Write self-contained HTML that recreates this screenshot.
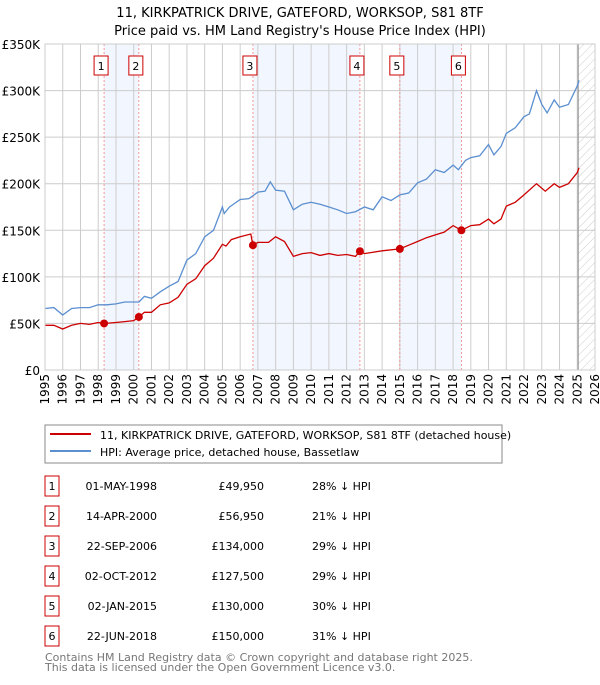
<!DOCTYPE html>
<html><head><meta charset="utf-8">
<style>
body{margin:0;background:#fff;font-family:"Liberation Sans","DejaVu Sans",sans-serif;}
svg text{font-family:"DejaVu Sans","Liberation Sans",sans-serif;}
</style></head>
<body>
<svg id="c" width="600" height="680" xmlns="http://www.w3.org/2000/svg">
<defs><pattern id="hatch" width="6" height="6" patternUnits="userSpaceOnUse" patternTransform="rotate(45)"><line x1="0" y1="0" x2="0" y2="6" stroke="#ccc" stroke-width="1"/></pattern></defs>
<text x="300" y="17" text-anchor="middle" font-size="13">11, KIRKPATRICK DRIVE, GATEFORD, WORKSOP, S81 8TF</text>
<text x="300" y="35" text-anchor="middle" font-size="13">Price paid vs. HM Land Registry's House Price Index (HPI)</text>
<g id="plot"></g>
<rect x="45" y="425" width="457" height="38" fill="#fff" stroke="#888"/>
<line x1="50" y1="434" x2="91" y2="434" stroke="#cc0000" stroke-width="2"/>
<text x="100" y="439" font-size="11">11, KIRKPATRICK DRIVE, GATEFORD, WORKSOP, S81 8TF (detached house)</text>
<line x1="50" y1="451" x2="91" y2="451" stroke="#5b8fd0" stroke-width="2"/>
<text x="100" y="456" font-size="11">HPI: Average price, detached house, Bassetlaw</text>
<g id="table"></g>
<text x="45" y="661" font-size="11" fill="#777">Contains HM Land Registry data © Crown copyright and database right 2025.</text>
<text x="45" y="671" font-size="11" fill="#777">This data is licensed under the Open Government Licence v3.0.</text>
</svg>
<script>
const yTicks=[0,50,100,150,200,250,300,350];
const yTickLabels=["£0","£50K","£100K","£150K","£200K","£250K","£300K","£350K"];
const xYears=[1995,1996,1997,1998,1999,2000,2001,2002,2003,2004,2005,2006,2007,2008,2009,2010,2011,2012,2013,2014,2015,2016,2017,2018,2019,2020,2021,2022,2023,2024,2025,2026];
const saleDates=[1998.33,2000.29,2006.72,2012.75,2015.0,2018.47];
const salePrices=[49.95,56.95,134,127.5,130,150];
const saleLabels=["1","2","3","4","5","6"];
const saleDateText=["01-MAY-1998","14-APR-2000","22-SEP-2006","02-OCT-2012","02-JAN-2015","22-JUN-2018"];
const salePriceText=["£49,950","£56,950","£134,000","£127,500","£130,000","£150,000"];
const saleHpiText=["28% ↓ HPI","21% ↓ HPI","29% ↓ HPI","29% ↓ HPI","30% ↓ HPI","31% ↓ HPI"];
const hpiT=[1995,1995.5,1996,1996.5,1997,1997.5,1998,1998.5,1999,1999.5,2000,2000.3,2000.6,2001,2001.5,2002,2002.5,2003,2003.5,2004,2004.5,2005,2005.1,2005.4,2006,2006.5,2007,2007.4,2007.7,2008,2008.5,2009,2009.5,2010,2010.5,2011,2011.5,2012,2012.5,2013,2013.5,2014,2014.5,2015,2015.5,2016,2016.5,2017,2017.5,2018,2018.3,2018.7,2019,2019.5,2020,2020.3,2020.7,2021,2021.5,2022,2022.3,2022.7,2023,2023.3,2023.7,2024,2024.5,2025,2025.1];
const hpiV=[66,67,59,66,67,67,70,70,71,73,73,73,79,77,84,90,95,118,125,143,150,175,168,175,183,184,191,192,202,193,192,172,178,180,178,175,172,168,170,175,172,186,182,188,190,201,205,215,212,220,215,225,228,230,242,231,240,254,260,272,275,300,285,276,290,282,285,305,311];
const propT=[1995,1995.5,1996,1996.5,1997,1997.5,1998,1998.33,1999,1999.5,2000,2000.29,2000.6,2001,2001.5,2002,2002.5,2003,2003.5,2004,2004.5,2005,2005.2,2005.5,2006,2006.6,2006.72,2007,2007.6,2008,2008.5,2009,2009.5,2010,2010.5,2011,2011.5,2012,2012.5,2012.75,2013,2014,2015,2015.5,2016,2016.5,2017,2017.5,2018,2018.47,2019,2019.5,2020,2020.3,2020.7,2021,2021.5,2022,2022.7,2023.2,2023.7,2024,2024.5,2025,2025.1];
const propV=[48,48,44,48,50,49,51,49.95,51,52,53,56.95,62,62,70,72,78,92,98,112,120,135,133,140,143,146,134,137,137,143,138,122,125,126,123,125,123,124,122,127.5,125,128,130,134,138,142,145,148,155,150,155,156,162,157,162,176,180,188,200,192,200,196,200,212,217];
const X=t=>45+(t-1995)*550/31, Y=v=>370-v*326/350;
const NS="http://www.w3.org/2000/svg";
function mk(tag,attrs,parent,txt){const e=document.createElementNS(NS,tag);for(const k in attrs)e.setAttribute(k,attrs[k]);if(txt!==undefined)e.textContent=txt;parent.appendChild(e);return e;}
const g=document.getElementById('plot');
for(let i=0;i<6;i+=2){const r=mk('rect',{x:X(saleDates[i]),y:44,width:X(saleDates[i+1])-X(saleDates[i]),height:326,fill:'#f2f6fe'},g);

}
const hr=mk('rect',{x:X(2025.05),y:44,width:595-X(2025.05),height:326,fill:'url(#hatch)'},g);


xYears.forEach(yr=>{const l=mk('line',{x1:X(yr),x2:X(yr),y1:44,y2:370,stroke:'#ccc'},g);


const t=mk('text',{x:0,y:0,'font-size':12,'text-anchor':'end',transform:`translate(${X(yr)+4},374) rotate(-90)`},g,String(yr));

});
yTicks.forEach((v,i)=>{const l=mk('line',{x1:45,x2:595,y1:Y(v),y2:Y(v),stroke:'#ccc'},g);


const t=mk('text',{x:40,y:Y(v)+5,'font-size':12,'text-anchor':'end'},g,yTickLabels[i]);

});
const vl=mk('line',{x1:X(2025.05),x2:X(2025.05),y1:44,y2:370,stroke:'#888'},g);


saleDates.forEach((d,i)=>{const l=mk('line',{x1:X(d),x2:X(d),y1:44,y2:370,stroke:'#f08080','stroke-width':0.8,'stroke-dasharray':'2,2'},g);


const r=mk('rect',{x:X(d)-10,y:56,width:14,height:19,fill:'#fff',stroke:'#c00'},g);


const t=mk('text',{x:X(d)-3,y:70,'font-size':11,'text-anchor':'middle'},g,saleLabels[i]);

});
const hp=mk('path',{d:hpiT.map((t,i)=>(i?'L':'M')+X(t).toFixed(1)+','+Y(hpiV[i]).toFixed(1)).join(''),fill:'none',stroke:'#5b8fd0','stroke-width':1.3},g);


const pp=mk('path',{d:propT.map((t,i)=>(i?'L':'M')+X(t).toFixed(1)+','+Y(propV[i]).toFixed(1)).join(''),fill:'none',stroke:'#cc0000','stroke-width':1.3},g);


saleDates.forEach((d,i)=>{const c=mk('circle',{cx:X(d),cy:Y(salePrices[i]),r:4,fill:'#cc0000'},g);

});
const ax=mk('rect',{x:45,y:44,width:550,height:326,fill:'none',stroke:'#ccc'},g);


const tb=document.getElementById('table');
saleLabels.forEach((s,i)=>{const y=483+i*30;
const r=mk('rect',{x:45,y:y-7,width:14,height:20,fill:'#fff',stroke:'#c00'},tb);


const t0=mk('text',{x:52,y:y+7,'font-size':11,'text-anchor':'middle'},tb,s);


const t1=mk('text',{x:157,y:y+7,'font-size':11,'text-anchor':'end'},tb,saleDateText[i]);


const t2=mk('text',{x:264,y:y+7,'font-size':11,'text-anchor':'end'},tb,salePriceText[i]);


const t3=mk('text',{x:312,y:y+7,'font-size':11},tb,saleHpiText[i]);

});
</script>
</body></html>
